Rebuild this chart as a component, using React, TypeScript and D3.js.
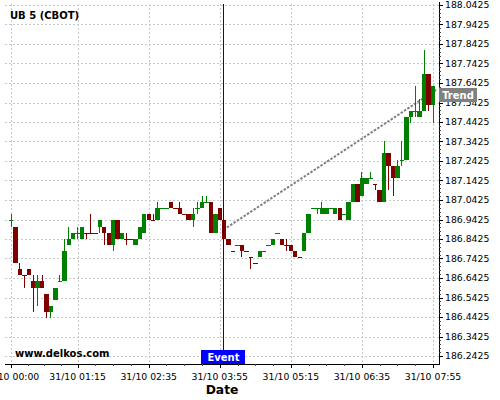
import React from "react";
import * as d3 from "d3";

// ---- data (UB 5, CBOT, 5-minute candles on 31/10) ----
const tradeDay = { year: 2023, month: 9, day: 31 };
const firstCandle = "00:00";
const candleMinutes = 5;

const opens = [
  186.9375, 186.90625, 186.6875, 186.65625, 186.6875, 186.625, 186.59375, 186.625, 186.5625, 186.46875,
  186.53125, 186.625, 186.625, 186.8125, 186.84375, 186.875, 186.84375, 186.875, 186.875, 186.875,
  186.90625, 186.90625, 186.875, 186.8125, 186.9375, 186.84375, 186.84375, 186.84375, 186.8125, 186.84375,
  186.875, 186.96875, 186.9375, 186.9375, 187, 187, 187.03125, 187, 187, 186.96875,
  186.96875, 186.9375, 187, 187, 187.03125, 187.03125, 186.875, 187, 186.9375, 186.84375,
  186.78125, 186.8125, 186.8125, 186.78125, 186.75, 186.71875, 186.75, 186.78125, 186.8125, 186.8125,
  186.875, 186.84375, 186.8125, 186.8125, 186.78125, 186.75, 186.78125, 186.875, 187, 187,
  186.96875, 186.96875, 187, 186.96875, 187, 186.96875, 186.9375, 187.03125, 187.125, 187.0625,
  187.125, 187.15625, 187.125, 187.09375, 187.03125, 187.28125, 187.21875, 187.15625, 187.25, 187.25,
  187.46875, 187.5, 187.46875, 187.5, 187.6875, 187.53125,
];
const highs = [
  186.96875, 186.90625, 186.71875, 186.65625, 186.6875, 186.65625, 186.65625, 186.65625, 186.5625, 186.5,
  186.59375, 186.65625, 186.84375, 186.90625, 186.875, 186.90625, 186.90625, 186.875, 186.96875, 186.875,
  186.9375, 186.90625, 186.875, 186.9375, 186.9375, 186.875, 186.875, 186.84375, 186.84375, 186.90625,
  186.96875, 186.96875, 186.96875, 187.03125, 187, 187, 187.03125, 187, 187.03125, 186.96875,
  186.96875, 187, 187.03125, 187.0625, 187.0625, 187.03125, 186.96875, 187, 186.9375, 186.84375,
  186.78125, 186.8125, 186.8125, 186.78125, 186.75, 186.71875, 186.78125, 186.78125, 186.8125, 186.84375,
  186.875, 186.84375, 186.84375, 186.8125, 186.78125, 186.75, 186.875, 186.96875, 187, 187,
  187.03125, 187, 187, 187, 187, 186.96875, 187.03125, 187.125, 187.125, 187.1875,
  187.15625, 187.1875, 187.125, 187.09375, 187.34375, 187.28125, 187.21875, 187.25, 187.34375, 187.46875,
  187.5, 187.625, 187.5625, 187.8125, 187.6875, 187.625,
];
const lows = [
  186.90625, 186.71875, 186.65625, 186.59375, 186.65625, 186.46875, 186.5, 186.59375, 186.4375, 186.4375,
  186.53125, 186.625, 186.625, 186.8125, 186.84375, 186.84375, 186.84375, 186.84375, 186.875, 186.875,
  186.875, 186.8125, 186.8125, 186.78125, 186.84375, 186.84375, 186.8125, 186.84375, 186.8125, 186.84375,
  186.875, 186.9375, 186.9375, 186.9375, 187, 187, 187, 187, 186.96875, 186.96875,
  186.9375, 186.90625, 186.96875, 187, 187.03125, 186.875, 186.875, 186.9375, 186.84375, 186.8125,
  186.78125, 186.8125, 186.75, 186.78125, 186.6875, 186.71875, 186.75, 186.78125, 186.8125, 186.8125,
  186.875, 186.8125, 186.78125, 186.78125, 186.75, 186.75, 186.78125, 186.875, 187, 186.96875,
  186.96875, 186.96875, 187, 186.96875, 186.9375, 186.96875, 186.9375, 187.03125, 187.03125, 187.0625,
  187.125, 187.15625, 187.09375, 187.03125, 187.03125, 187.09375, 187.0625, 187.15625, 187.21875, 187.25,
  187.4375, 187.46875, 187.46875, 187.5, 187.5, 187.4375,
];
const closes = [
  186.9375, 186.71875, 186.65625, 186.65625, 186.65625, 186.59375, 186.625, 186.59375, 186.46875, 186.5,
  186.59375, 186.625, 186.78125, 186.84375, 186.875, 186.875, 186.90625, 186.875, 186.875, 186.875,
  186.9375, 186.875, 186.8125, 186.9375, 186.84375, 186.875, 186.84375, 186.84375, 186.84375, 186.90625,
  186.96875, 186.9375, 186.9375, 187, 187, 187, 187, 187, 186.96875, 186.96875,
  186.9375, 186.96875, 187, 187.03125, 187.03125, 186.875, 186.96875, 186.9375, 186.84375, 186.8125,
  186.78125, 186.8125, 186.78125, 186.78125, 186.75, 186.71875, 186.78125, 186.78125, 186.8125, 186.84375,
  186.875, 186.8125, 186.8125, 186.78125, 186.75, 186.75, 186.875, 186.96875, 187, 187,
  187, 187, 187, 187, 186.9375, 186.96875, 187.03125, 187.125, 187.03125, 187.15625,
  187.15625, 187.15625, 187.125, 187.03125, 187.28125, 187.21875, 187.15625, 187.21875, 187.25, 187.46875,
  187.5, 187.5, 187.5, 187.6875, 187.53125, 187.625,
];
// unchanged candles (open == close) that the source drew in the "up" colour
const unchangedUp = [0, 11, 15, 34, 35, 42, 44, 51, 57, 58, 60, 68, 69, 72, 75, 81, 88, 91];

const xTickTimes = ["00:00", "01:15", "02:35", "03:55", "05:15", "06:35", "07:55"];
const xTickLabels = ["31/10 00:00", "31/10 01:15", "31/10 02:35", "31/10 03:55", "31/10 05:15", "31/10 06:35", "31/10 07:55"];
const yTickLabels = [
  "186.2425", "186.3425", "186.4425", "186.5425", "186.6425", "186.7425", "186.8425", "186.9425", "187.0425",
  "187.1425", "187.2425", "187.3425", "187.4425", "187.5425", "187.6425", "187.7425", "187.8425", "187.9425", "188.0425",
];
const eventTime = "03:59";
const trendTimes = ["04:03", "08:00"];
const trendValues = [186.9015, 187.6115];

const title = "UB 5 (CBOT)";
const watermark = "www.delkos.com";
const xAxisTitle = "Date";

// ---- helpers ----
const at = (hm: string) => {
  const [h, m] = hm.split(":").map(Number);
  return new Date(tradeDay.year, tradeDay.month, tradeDay.day, h, m);
};

const UP = "#008000";
const DOWN = "#800000";
const FONT = "'DejaVu Sans', 'Liberation Sans', sans-serif";

export default function App() {
  const W = 500, H = 400;
  const plot = { left: 5, right: 439, top: 4, bottom: 364 };

  const x = d3.scaleTime().domain([at(xTickTimes[0]), at(xTickTimes[xTickTimes.length - 1])]).range([11, 433]);
  const yMin = +yTickLabels[0], yMax = +yTickLabels[yTickLabels.length - 1];
  const y = d3.scaleLinear().domain([yMin, yMax]).range([356, 5]);

  const start = at(firstCandle);
  const candles = opens.map((o, i) => ({
    i,
    t: d3.timeMinute.offset(start, i * candleMinutes),
    o, h: highs[i], l: lows[i], c: closes[i],
  }));
  const step = x(d3.timeMinute.offset(start, candleMinutes)) - x(start);
  const half = step / 2 - 0.02;

  const yTicks = yTickLabels.map(Number);
  const yMinor: number[] = [];
  for (let k = 0; k < yTicks.length - 1; k++) {
    for (let j = 1; j < 5; j++) yMinor.push(yTicks[k] + ((yTicks[k + 1] - yTicks[k]) * j) / 5);
  }
  const xMajor = xTickTimes.map((t) => x(at(t)));
  const xMinor: number[] = [];
  for (let k = 0; k < xMajor.length - 1; k++) {
    for (let j = 1; j < 4; j++) xMinor.push(xMajor[k] + ((xMajor[k + 1] - xMajor[k]) * j) / 4);
  }

  const trendLine = d3.line<[Date, number]>().x((d) => x(d[0])).y((d) => y(d[1]));
  const trendPts: [Date, number][] = trendTimes.map((t, k) => [at(t), trendValues[k]]);
  const trendEndY = y(trendValues[trendValues.length - 1]);

  const evX = Math.floor(x(at(eventTime))) + 0.5;
  const crisp = (v: number) => Math.round(v) + 0.5;

  return (
    <svg width={W} height={H} style={{ position: "absolute", left: 0, top: 0, background: "#fff" }} fontFamily={FONT}>
      <rect x={0} y={0} width={W} height={H} fill="#fff" />
      {/* grid */}
      <g stroke="#c8c8c8" strokeWidth={1} strokeDasharray="2,2">
        {yTicks.map((v, k) => (
          <line key={"gy" + k} x1={plot.left} x2={plot.right} y1={crisp(y(v))} y2={crisp(y(v))} />
        ))}
        {xMajor.map((px, k) => (
          <line key={"gx" + k} x1={crisp(px)} x2={crisp(px)} y1={plot.top} y2={plot.bottom} />
        ))}
      </g>
      {/* trend */}
      <path d={trendLine(trendPts) || ""} fill="none" stroke="#808080" strokeWidth={2} strokeDasharray="2.5,1.5" />
      {/* candles */}
      <g>
        {candles.map((d) => {
          const cx = x(d.t);
          const up = d.c > d.o || (d.c === d.o && unchangedUp.includes(d.i));
          const col = up ? UP : DOWN;
          const x0 = Math.round(cx - half), x1 = Math.round(cx + half);
          const wx = Math.floor(cx) + 0.5;
          const top = Math.round(y(Math.max(d.o, d.c)));
          const bot = Math.round(y(Math.min(d.o, d.c)));
          return (
            <g key={d.i}>
              <line x1={wx} x2={wx} y1={Math.round(y(d.h))} y2={Math.round(y(d.l))} stroke={col} strokeWidth={1} />
              {bot - top >= 1 ? (
                <rect x={x0} y={top} width={x1 - x0} height={bot - top} fill={col} />
              ) : (
                <line x1={x0} x2={x1} y1={top + 0.5} y2={top + 0.5} stroke={col} strokeWidth={1} />
              )}
            </g>
          );
        })}
      </g>
      {/* event line */}
      <line x1={evX} x2={evX} y1={plot.top} y2={350} stroke="#0000cc" strokeWidth={1} />
      {/* axes */}
      <line x1={plot.left} x2={plot.right} y1={plot.bottom + 0.5} y2={plot.bottom + 0.5} stroke="#000" />
      <line x1={plot.right + 0.5} x2={plot.right + 0.5} y1={plot.top - 2} y2={plot.bottom + 1} stroke="#000" />
      <g stroke="#000" strokeWidth={1}>
        {yTicks.map((v, k) => (
          <line key={"ty" + k} x1={plot.right} x2={plot.right + 4} y1={crisp(y(v))} y2={crisp(y(v))} />
        ))}
        {yMinor.map((v, k) => (
          <line key={"my" + k} x1={plot.right} x2={plot.right + 2} y1={crisp(y(v))} y2={crisp(y(v))} stroke="#444" />
        ))}
        {xMajor.map((px, k) => (
          <line key={"tx" + k} x1={crisp(px)} x2={crisp(px)} y1={plot.bottom} y2={plot.bottom + 4} />
        ))}
        {xMinor.map((px, k) => (
          <line key={"mx" + k} x1={crisp(px)} x2={crisp(px)} y1={plot.bottom} y2={plot.bottom + 2} stroke="#444" />
        ))}
      </g>
      <g fontSize={9.3} fill="#000">
        {yTickLabels.map((s, k) => (
          <text key={"ly" + k} x={plot.right + 6} y={y(yTicks[k]) + 3.4}>{s}</text>
        ))}
        {xTickLabels.map((s, k) => (
          <text key={"lx" + k} x={xMajor[k]} y={380} textAnchor="middle">{s}</text>
        ))}
      </g>
      {/* texts */}
      <text x={10} y={19} fontSize={10} fontWeight="bold" fill="#000">{title}</text>
      <text x={15} y={357} fontSize={10} fontWeight="bold" fill="#000">{watermark}</text>
      <text x={222} y={394} fontSize={12.3} fontWeight="bold" fill="#000" textAnchor="middle">{xAxisTitle}</text>
      {/* event label */}
      <rect x={evX - 22.5} y={350} width={44} height={14} fill="#0000ff" />
      <text x={evX} y={361} fontSize={10} fontWeight="bold" fill="#fff" textAnchor="middle">Event</text>
      {/* trend label */}
      <rect x={plot.right} y={Math.round(trendEndY) - 1} width={38} height={14} fill="#808080" />
      <text x={plot.right + 19} y={Math.round(trendEndY) + 10} fontSize={10} fontWeight="bold" fill="#fff" textAnchor="middle">Trend</text>
    </svg>
  );
}
